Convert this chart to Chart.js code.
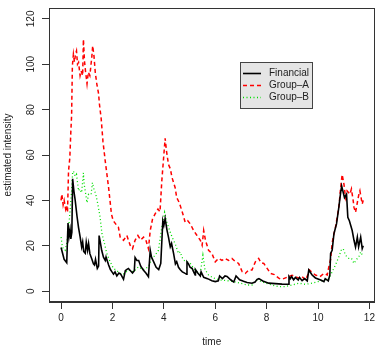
<!DOCTYPE html>
<html>
<head>
<meta charset="utf-8">
<script src="https://cdn.jsdelivr.net/npm/chart.js@4"></script>
<style>
  html, body { margin: 0; padding: 0; background: #fff; }
  #intensityChart { display: block; }
</style>
</head>
<body>
<canvas id="intensityChart" width="378" height="346"></canvas>
<script>
// values
const finTime = [0.00, 0.05, 0.12, 0.22, 0.27, 0.31, 0.35, 0.38, 0.42, 0.45, 0.50, 0.55, 0.62, 0.68, 0.74, 0.80, 0.84, 0.88, 0.94, 0.98, 1.03, 1.07, 1.12, 1.20, 1.26, 1.30, 1.34, 1.41, 1.46, 1.48, 1.52, 1.58, 1.65, 1.72, 1.75, 1.85, 1.92, 1.98, 2.04, 2.10, 2.17, 2.25, 2.32, 2.43, 2.50, 2.55, 2.62, 2.70, 2.78, 2.85, 2.88, 2.95, 3.02, 3.10, 3.20, 3.30, 3.40, 3.47, 3.52, 3.60, 3.70, 3.80, 3.88, 3.96, 4.00, 4.05, 4.12, 4.18, 4.25, 4.30, 4.38, 4.45, 4.50, 4.57, 4.64, 4.72, 4.83, 4.88, 4.90, 4.96, 5.02, 5.10, 5.16, 5.22, 5.23, 5.32, 5.42, 5.45, 5.55, 5.70, 5.87, 6.00, 6.12, 6.17, 6.28, 6.38, 6.46, 6.60, 6.72, 6.81, 6.95, 7.10, 7.24, 7.43, 7.55, 7.63, 7.70, 7.85, 8.08, 8.34, 8.60, 8.84, 8.87, 8.92, 8.97, 9.05, 9.12, 9.23, 9.28, 9.38, 9.48, 9.58, 9.64, 9.77, 9.90, 10.10, 10.23, 10.28, 10.40, 10.46, 10.49, 10.55, 10.62, 10.72, 10.81, 10.88, 10.92, 10.97, 11.03, 11.11, 11.16, 11.22, 11.33, 11.40, 11.46, 11.53, 11.58, 11.66, 11.72, 11.76];
const finValues = [19.2, 17.0, 14.0, 12.5, 30.0, 24.0, 27.0, 23.0, 26.0, 49.5, 44.0, 40.0, 33.0, 28.0, 24.0, 19.5, 21.7, 17.5, 16.7, 21.6, 18.0, 21.0, 16.5, 14.0, 12.0, 11.5, 14.0, 10.0, 11.0, 24.5, 22.0, 18.0, 15.0, 13.5, 15.0, 11.5, 9.5, 8.5, 7.5, 8.5, 6.7, 8.0, 7.5, 5.2, 9.0, 9.5, 10.0, 9.0, 8.0, 9.0, 14.8, 13.5, 13.5, 11.0, 9.3, 8.0, 6.4, 18.0, 15.0, 13.0, 10.5, 9.5, 12.2, 31.0, 29.0, 32.0, 27.0, 23.8, 19.5, 21.0, 16.5, 12.0, 13.0, 10.5, 9.4, 8.5, 7.8, 7.5, 12.9, 12.0, 10.5, 10.0, 8.5, 7.1, 9.5, 8.0, 6.7, 8.5, 6.1, 5.5, 4.6, 4.2, 4.5, 6.7, 5.5, 6.7, 6.5, 5.0, 4.0, 6.7, 5.0, 4.3, 3.8, 3.5, 4.0, 5.2, 5.5, 4.5, 3.5, 3.3, 3.1, 3.0, 6.4, 5.5, 6.4, 5.0, 6.0, 4.9, 6.0, 4.6, 5.5, 4.5, 9.3, 7.1, 5.8, 4.9, 4.2, 5.5, 4.5, 7.1, 16.6, 18.0, 25.3, 29.6, 36.9, 43.4, 46.3, 44.0, 41.2, 42.7, 32.5, 31.0, 26.7, 22.4, 19.4, 23.8, 19.5, 23.8, 18.7, 20.0];

const groupATime = [0.00, 0.03, 0.08, 0.12, 0.18, 0.22, 0.25, 0.29, 0.34, 0.38, 0.41, 0.44, 0.48, 0.52, 0.56, 0.60, 0.64, 0.68, 0.74, 0.78, 0.84, 0.87, 0.91, 0.95, 1.01, 1.06, 1.12, 1.20, 1.23, 1.28, 1.33, 1.39, 1.46, 1.49, 1.56, 1.63, 1.69, 1.72, 1.85, 1.96, 2.03, 2.08, 2.17, 2.23, 2.30, 2.43, 2.56, 2.69, 2.78, 2.88, 2.99, 3.10, 3.21, 3.30, 3.40, 3.47, 3.56, 3.66, 3.77, 3.85, 3.92, 3.99, 4.05, 4.10, 4.18, 4.25, 4.32, 4.44, 4.50, 4.60, 4.64, 4.74, 4.83, 4.93, 5.03, 5.16, 5.29, 5.42, 5.49, 5.55, 5.62, 5.74, 5.87, 6.00, 6.13, 6.26, 6.39, 6.52, 6.65, 6.78, 6.91, 7.05, 7.17, 7.30, 7.43, 7.56, 7.69, 7.78, 7.89, 8.02, 8.15, 8.30, 8.47, 8.60, 8.86, 8.99, 9.12, 9.25, 9.38, 9.51, 9.60, 9.67, 9.77, 9.90, 10.08, 10.23, 10.36, 10.42, 10.49, 10.55, 10.59, 10.68, 10.81, 10.88, 10.94, 11.01, 11.07, 11.13, 11.24, 11.30, 11.37, 11.40, 11.46, 11.52, 11.59, 11.63, 11.68, 11.72, 11.76];
const groupAValues = [40.0, 42.7, 38.0, 40.0, 36.0, 37.6, 34.7, 52.9, 58.7, 70.3, 77.6, 99.4, 104.4, 101.0, 104.4, 105.9, 100.0, 100.8, 95.0, 97.0, 95.0, 111.0, 101.6, 97.0, 91.4, 96.5, 95.0, 103.7, 108.1, 103.7, 96.5, 91.4, 87.0, 82.7, 76.1, 66.0, 60.2, 57.2, 45.6, 34.0, 31.0, 30.3, 28.9, 28.2, 23.8, 22.4, 24.5, 20.2, 18.7, 22.4, 24.5, 22.5, 23.8, 22.5, 18.7, 26.7, 31.8, 34.0, 36.2, 35.0, 48.5, 58.7, 67.4, 62.0, 55.8, 54.0, 50.0, 45.6, 41.2, 39.0, 37.6, 34.0, 30.3, 31.0, 29.6, 26.7, 24.5, 22.4, 20.2, 26.7, 22.4, 18.0, 16.6, 12.9, 14.4, 13.5, 14.4, 13.5, 14.4, 13.0, 12.2, 8.5, 7.8, 9.3, 9.3, 12.9, 14.4, 12.5, 12.2, 10.0, 7.8, 7.3, 5.7, 5.2, 6.4, 7.0, 6.4, 5.7, 6.4, 4.9, 7.1, 9.3, 8.2, 7.1, 6.4, 7.8, 7.1, 10.7, 14.0, 21.0, 23.8, 28.2, 36.9, 45.6, 51.4, 47.1, 41.2, 44.2, 42.7, 45.0, 39.8, 36.9, 34.7, 38.4, 42.7, 44.2, 41.0, 38.4, 40.0];

const groupBTime = [0.00, 0.05, 0.10, 0.16, 0.22, 0.29, 0.35, 0.41, 0.45, 0.48, 0.55, 0.60, 0.68, 0.72, 0.80, 0.87, 0.90, 0.96, 1.01, 1.07, 1.17, 1.22, 1.28, 1.35, 1.43, 1.52, 1.59, 1.69, 1.78, 1.91, 2.04, 2.17, 2.30, 2.43, 2.62, 2.82, 3.01, 3.20, 3.40, 3.54, 3.66, 3.79, 3.92, 4.03, 4.10, 4.18, 4.32, 4.44, 4.57, 4.64, 4.70, 4.77, 4.90, 5.03, 5.16, 5.29, 5.42, 5.52, 5.60, 5.74, 5.94, 6.20, 6.46, 6.72, 6.98, 7.24, 7.43, 7.63, 7.80, 7.95, 8.21, 8.47, 8.73, 8.99, 9.25, 9.51, 9.77, 10.00, 10.23, 10.42, 10.55, 10.68, 10.81, 10.90, 10.98, 11.07, 11.20, 11.30, 11.40, 11.50, 11.59, 11.66, 11.72];
const groupBValues = [23.8, 19.5, 18.5, 18.0, 21.0, 27.5, 35.4, 44.2, 52.1, 52.9, 50.7, 51.5, 44.2, 45.0, 43.4, 52.1, 47.0, 42.7, 39.0, 42.7, 42.7, 47.8, 45.0, 42.7, 38.4, 32.5, 25.3, 20.9, 16.6, 12.9, 10.0, 9.0, 7.8, 7.5, 9.3, 8.5, 10.7, 9.5, 10.7, 14.4, 15.8, 18.0, 28.2, 34.7, 31.0, 28.2, 23.8, 20.9, 16.6, 17.3, 15.1, 13.6, 13.0, 12.2, 10.0, 8.5, 8.0, 15.8, 9.5, 7.1, 5.7, 4.9, 4.6, 4.2, 3.5, 2.7, 2.7, 4.9, 4.2, 3.5, 2.7, 2.0, 2.0, 2.7, 3.5, 3.0, 3.5, 4.2, 4.9, 5.5, 8.5, 11.5, 15.1, 18.0, 18.7, 15.8, 14.4, 14.5, 12.2, 14.0, 15.1, 17.3, 16.0];

const seriesNames = ["Financial", "Group\u2013A", "Group\u2013B"];
const xTicks = [0, 2, 4, 6, 8, 10, 12];
const yTicks = [0, 20, 40, 60, 80, 100, 120];

const toPoints = (xs, ys) => xs.map((x, i) => ({ x: x, y: ys[i] }));

// full box round the plot region, like R's bty="o"
const plotBox = {
    id: "plotBox",
    afterDraw(chart) {
        const a = chart.chartArea;
        const ctx = chart.ctx;
        ctx.save();
        ctx.strokeStyle = "#333";
        ctx.lineWidth = 1;
        ctx.strokeRect(Math.round(a.left) + 0.5, Math.round(a.top) + 0.5,
            Math.round(a.right - a.left) - 1, Math.round(a.bottom - a.top) - 1);
        ctx.restore();
    }
};

// legend box inside the plot
const boxLegend = {
    id: "boxLegend",
    afterDatasetsDraw(chart) {
        const ctx = chart.ctx;
        const bx = 240.5, by = 62.5, bw = 72, bh = 46;
        ctx.save();
        ctx.fillStyle = "#e5e5e5";
        ctx.fillRect(bx, by, bw, bh);
        ctx.strokeStyle = "#444";
        ctx.lineWidth = 1;
        ctx.strokeRect(bx, by, bw, bh);
        chart.data.datasets.forEach((ds, i) => {
            const ly = 73.5 + i * 12;
            ctx.strokeStyle = ds.borderColor;
            ctx.lineWidth = ds.borderWidth;
            ctx.setLineDash(ds.borderDash || []);
            ctx.beginPath();
            ctx.moveTo(243, ly);
            ctx.lineTo(261, ly);
            ctx.stroke();
            ctx.setLineDash([]);
            ctx.fillStyle = "#222";
            ctx.font = '10px "Liberation Sans", Arial, sans-serif';
            ctx.textBaseline = "middle";
            ctx.textAlign = "left";
            ctx.fillText(ds.label, 269, ly);
        });
        ctx.restore();
    }
};

const ctx = document.getElementById("intensityChart").getContext("2d");
const font = { family: '"Liberation Sans", Arial, sans-serif', size: 10 };

new Chart(ctx, {
    type: "line",
    data: {
        datasets: [{
            label: seriesNames[0],
            data: toPoints(finTime, finValues),
            borderColor: "#000000",
            borderWidth: 1.6
        }, {
            label: seriesNames[1],
            data: toPoints(groupATime, groupAValues),
            borderColor: "#ff0000",
            borderWidth: 1.5,
            borderDash: [4, 3]
        }, {
            label: seriesNames[2],
            data: toPoints(groupBTime, groupBValues),
            borderColor: "#00dd00",
            borderWidth: 1.3,
            borderDash: [1, 2.5]
        }]
    },
    options: {
        responsive: false,
        animation: false,
        devicePixelRatio: 1,
        layout: { padding: { top: 5, right: 2, left: 0, bottom: 0 } },
        elements: {
            point: { radius: 0 },
            line: { tension: 0, fill: false }
        },
        plugins: {
            legend: { display: false },
            tooltip: { enabled: false }
        },
        scales: {
            x: {
                type: "linear",
                min: -0.47,
                max: 12.2,
                afterBuildTicks: s => { s.ticks = xTicks.map(v => ({ value: v })); },
                afterFit: s => { s.height = 44; },
                grid: { drawOnChartArea: false, tickLength: 7, color: "#333", tickColor: "#333" },
                border: { display: true, color: "#333" },
                ticks: { font: font, color: "#222", padding: 3, maxRotation: 0 },
                title: { display: true, text: "time", font: font, color: "#222", padding: { top: 0, bottom: -2 } }
            },
            y: {
                type: "linear",
                min: -4.8,
                max: 124.8,
                afterBuildTicks: s => { s.ticks = yTicks.map(v => ({ value: v })); },
                afterFit: s => { s.width = 49; },
                grid: { drawOnChartArea: false, tickLength: 7, color: "#333", tickColor: "#333" },
                border: { display: true, color: "#333" },
                ticks: { font: font, color: "#222", padding: 2, minRotation: 90, maxRotation: 90, crossAlign: "center" },
                title: { display: true, text: "estimated intensity", font: font, color: "#222", padding: { top: 2, bottom: 0 } }
            }
        }
    },
    plugins: [plotBox, boxLegend]
});
</script>
</body>
</html>
